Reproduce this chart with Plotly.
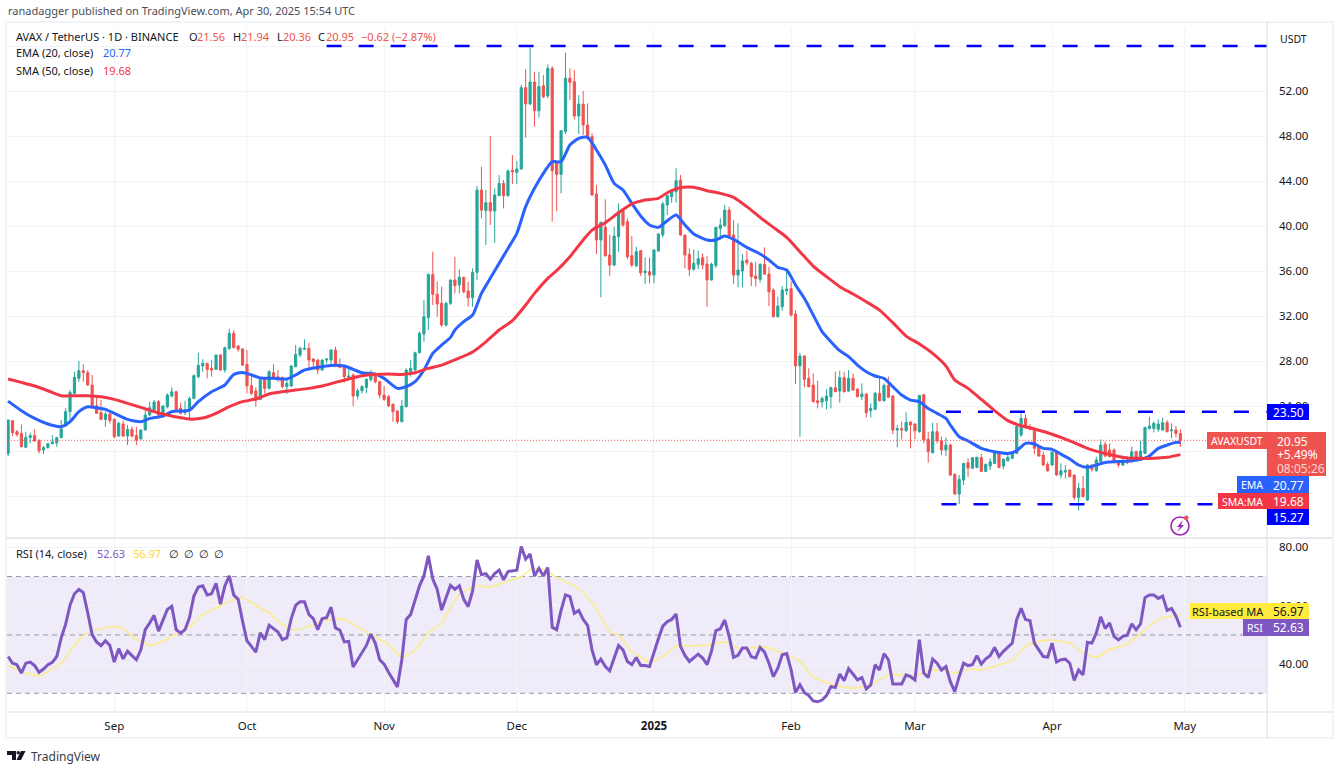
import pandas as pd
import plotly.graph_objects as go

#######################################################
# data (daily candles, Aug 8 2024 .. Apr 30 2025)
first_day = '2024-08-08'

opens = [19.79,22.70,21.72,21.57,20.33,21.21,21.39,20.95,20.09,20.30,
 20.65,20.74,21.19,22.22,23.50,25.13,26.46,27.14,26.96,25.87,
 24.03,23.41,22.81,23.29,22.81,21.33,22.40,21.33,21.93,21.39,
 21.07,21.87,23.20,23.64,24.39,23.20,23.94,24.89,25.27,23.79,
 23.41,23.59,24.68,26.61,27.56,27.79,27.35,27.26,28.53,27.20,
 29.13,30.46,29.33,29.07,27.70,25.81,25.33,24.59,26.37,25.57,
 26.96,26.61,26.55,25.72,25.78,27.50,28.53,29.04,29.13,28.18,
 28.09,27.20,28.09,28.09,28.98,27.64,27.56,26.55,26.76,24.89,
 25.36,25.66,26.37,26.84,26.16,24.98,24.83,24.15,23.56,22.61,
 23.94,27.05,27.20,28.74,30.40,31.88,35.70,33.93,33.13,31.20,
 33.13,35.20,34.76,35.44,34.22,33.63,35.88,43.20,41.36,42.07,
 41.33,42.70,43.79,42.70,44.95,44.77,45.07,52.30,50.85,52.80,
 50.25,52.47,51.56,54.01,45.72,44.59,48.39,53.13,52.83,49.78,
 50.82,48.98,47.94,42.85,38.76,39.88,37.42,36.53,39.05,41.33,
 40.39,37.36,36.47,37.81,35.85,35.94,35.64,37.78,39.20,41.87,
 42.61,43.05,44.09,39.20,37.48,36.15,36.59,37.19,36.62,35.20,
 36.50,39.79,40.03,41.42,39.20,35.64,36.00,36.98,36.68,35.56,
 35.26,36.59,35.73,34.31,31.94,32.83,34.25,34.43,32.18,27.56,
 28.44,26.46,25.87,24.47,24.36,24.47,24.83,25.63,25.33,26.52,
 25.33,26.46,25.51,24.83,25.07,23.59,23.70,25.13,24.47,25.84,
 24.89,21.87,21.99,21.81,22.58,22.40,21.72,25.01,21.04,19.85,
 21.72,20.92,20.09,20.53,17.93,16.18,17.42,18.96,18.46,18.55,
 19.41,18.19,18.67,18.90,19.79,18.67,19.14,19.35,19.79,21.42,
 22.90,22.16,21.93,20.39,19.64,18.81,18.76,19.91,17.87,18.13,
 18.31,17.87,15.88,16.68,15.64,18.76,18.25,19.05,20.59,20.09,
 20.09,19.05,18.76,19.11,19.05,19.94,19.20,19.79,21.99,22.01,
 21.93,21.87,22.52,21.81,21.87,21.56]

highs = [22.76,22.72,21.87,22.37,21.72,21.63,21.93,21.04,20.44,20.74,
 21.42,21.27,22.76,23.79,25.42,27.05,28.00,27.73,27.20,26.76,
 24.98,24.53,23.50,23.41,22.90,22.61,22.70,22.31,22.16,22.16,
 21.93,23.59,24.39,24.53,24.53,24.09,25.13,25.66,25.36,24.30,
 24.47,24.83,26.81,28.74,28.15,27.85,28.09,28.56,28.62,29.27,
 30.87,30.76,29.42,29.13,28.98,26.61,25.66,26.43,26.43,27.20,
 27.73,27.20,26.61,26.31,27.64,29.42,29.27,29.93,29.63,28.27,
 28.15,28.15,28.24,29.04,29.27,28.24,27.64,27.35,26.90,25.57,
 25.87,26.46,27.20,26.96,26.25,25.78,24.98,24.24,23.64,24.53,
 27.35,28.09,28.83,30.61,33.40,35.79,37.72,35.05,34.61,33.27,
 35.26,37.27,36.15,35.50,35.05,36.24,43.56,45.27,43.20,48.00,
 43.35,44.53,44.09,45.04,46.31,45.78,52.53,53.93,55.88,53.72,
 53.72,53.42,54.37,54.22,45.72,48.53,55.41,54.01,53.87,51.64,
 52.00,50.90,48.24,43.64,40.39,42.37,39.20,39.94,42.01,41.57,
 40.68,39.11,38.16,37.87,37.21,37.21,37.93,39.35,42.16,42.81,
 43.26,45.13,44.53,39.20,38.01,37.93,37.81,37.57,37.33,36.74,
 39.94,40.68,41.87,41.72,40.53,40.24,37.51,37.81,36.83,36.83,
 36.68,38.10,36.39,34.46,33.72,34.67,36.09,35.05,32.53,28.74,
 28.53,27.35,26.90,26.25,24.83,25.48,25.72,27.05,27.14,27.05,
 27.20,26.90,25.57,26.01,25.13,24.24,25.27,26.55,26.01,26.61,
 24.98,22.31,22.61,23.44,22.61,22.46,24.98,25.04,21.72,22.52,
 22.52,21.27,21.21,20.68,18.01,17.87,18.96,19.35,19.44,19.50,
 19.73,18.90,19.35,20.03,19.94,19.35,19.64,19.94,22.31,23.50,
 23.26,22.40,22.07,20.53,19.94,19.05,19.97,19.97,18.90,18.76,
 18.37,17.93,17.19,17.78,18.84,18.81,19.50,21.04,20.83,20.68,
 20.24,19.20,19.50,19.56,20.39,20.03,20.92,22.16,23.05,22.61,
 22.81,22.96,22.76,22.46,22.22,21.94]

lows = [19.56,21.33,21.27,20.33,20.30,20.68,20.83,19.79,19.73,20.24,
 20.62,20.39,21.13,22.16,22.46,25.07,26.16,26.16,25.78,23.79,
 23.29,22.76,22.16,22.46,21.13,21.27,21.27,20.53,21.21,20.53,
 21.04,21.81,23.14,23.50,22.90,22.99,23.79,24.77,23.59,23.26,
 23.20,22.81,24.59,26.46,27.05,26.46,26.61,27.20,27.14,26.96,
 28.98,29.13,28.83,27.56,25.13,24.98,23.94,24.53,25.13,25.48,
 26.43,26.16,25.57,25.07,25.72,27.44,28.33,28.98,27.44,27.44,
 26.84,27.14,27.79,27.64,27.44,27.35,26.07,26.46,24.00,24.59,
 25.13,25.13,26.16,26.01,24.68,24.47,23.94,22.61,22.40,22.55,
 23.88,26.61,27.14,28.68,29.72,30.76,32.98,31.94,31.05,31.05,
 32.98,34.01,34.01,34.01,32.83,32.83,35.20,40.68,38.31,40.09,
 38.52,42.67,41.57,42.61,43.73,43.73,44.98,47.85,50.76,48.83,
 49.63,51.35,51.35,40.39,41.33,42.90,48.18,51.20,49.48,48.18,
 48.09,47.65,42.67,37.51,33.66,37.27,35.56,36.44,37.72,39.94,
 37.04,36.33,36.33,35.56,34.84,34.90,34.90,37.72,38.99,40.98,
 42.07,42.07,39.11,36.24,35.56,36.03,36.15,36.15,32.83,35.14,
 36.24,38.81,39.94,39.05,34.84,34.55,34.55,36.50,34.67,34.61,
 34.96,35.64,32.89,31.88,31.88,32.47,33.87,31.94,25.96,21.27,
 25.66,25.66,24.30,23.79,23.88,23.70,23.79,25.27,24.30,25.21,
 25.27,25.36,24.77,24.53,22.99,22.99,23.64,24.41,24.39,24.74,
 21.51,20.33,21.04,21.69,20.24,21.04,21.63,20.68,18.96,19.79,
 20.68,19.64,19.56,17.78,16.09,15.29,16.98,17.72,18.43,18.46,
 18.13,18.16,18.31,18.84,18.46,18.37,19.05,19.29,19.73,21.27,
 22.01,21.87,19.73,19.50,18.67,18.16,18.70,17.78,17.57,17.57,
 17.66,15.64,14.70,15.88,15.59,18.16,18.16,18.96,19.44,19.44,
 18.90,18.55,18.67,18.84,18.96,19.11,19.14,19.73,21.93,21.66,
 21.72,21.81,21.66,21.13,21.21,20.36]

closes = [22.76,21.63,21.48,20.39,21.21,21.36,20.89,20.03,20.30,20.65,
 20.80,21.19,21.96,23.50,25.21,26.55,27.14,26.96,25.87,24.03,
 23.35,22.81,23.29,22.70,21.27,22.46,21.33,21.93,21.33,20.98,
 21.87,23.20,23.85,24.36,23.20,24.00,24.98,25.27,23.70,23.35,
 23.64,24.68,26.70,27.61,27.79,27.26,27.20,28.53,27.20,29.19,
 30.46,29.19,29.04,27.64,25.78,25.13,24.53,26.31,25.57,27.05,
 26.55,26.37,25.72,26.01,27.56,28.59,29.13,29.13,28.09,27.94,
 27.20,28.09,28.18,28.98,27.56,27.44,26.61,26.67,24.89,25.36,
 25.72,26.37,26.90,26.16,24.98,24.59,24.00,23.50,22.61,24.00,
 27.20,27.35,28.74,30.46,31.94,35.70,33.93,33.07,31.20,33.13,
 35.20,34.70,35.44,34.16,33.63,35.88,43.20,41.42,42.07,41.33,
 42.76,43.79,42.70,44.89,44.83,45.07,52.30,50.85,52.80,50.25,
 52.39,51.50,54.01,44.92,44.59,48.47,53.13,52.77,49.78,50.85,
 48.98,47.88,42.76,38.76,40.33,37.36,36.53,39.11,41.27,40.09,
 37.27,36.53,37.72,35.85,36.00,35.64,37.87,39.29,41.96,42.70,
 43.14,44.03,39.20,37.42,36.15,36.68,37.10,36.53,35.20,36.62,
 39.88,40.09,41.42,39.11,35.64,36.09,36.89,36.74,35.50,35.32,
 36.59,35.73,34.16,31.94,32.89,34.31,34.40,32.09,27.56,28.44,
 26.37,25.72,24.39,24.30,24.68,24.89,25.63,25.27,26.52,25.27,
 26.46,25.42,24.83,25.07,23.41,23.79,25.13,24.47,25.84,24.77,
 21.87,21.99,21.87,22.55,22.31,21.81,24.95,20.98,19.94,21.72,
 20.92,20.09,20.53,17.87,16.18,17.48,18.90,18.49,19.41,19.44,
 18.19,18.81,19.05,19.85,18.55,19.26,19.44,19.85,22.16,22.90,
 22.10,21.93,20.24,19.56,18.76,18.25,19.91,17.87,18.25,18.25,
 17.72,15.88,16.68,15.94,18.76,18.37,19.20,20.53,19.56,19.50,
 18.96,18.76,19.02,18.96,19.94,19.20,20.00,22.10,22.22,22.46,
 22.40,22.52,21.72,21.87,21.57,20.95]

# EMA 20, read every couple of days (day = candle number)
ema_days = [0,3,6,9,12,14,16,18,20,22,24,27,30,32,35,37,41,43,46,49,51,53,55,57,60,63,65,67,70,73,76,78,80,83,85,88,90,92,94,96,98,100,
 101,103,105,107,109,111,113,115,117,119,121,123,125,127,129,131,133,135,137,139,141,143,145,147,149,151,153,155,158,160,162,164,167,170,172,174,176,178,180,182,184,186,188,190,192,194,196,198,200,202,204,206,208,210,212,213,215,217,220,223,226,228,230,232,234,236,238,240,242,244,246,248,250,252,254,256,258,260,262,264,265]
ema_vals = [24.44,23.59,22.90,22.40,22.16,22.61,23.50,23.94,23.85,23.70,23.35,22.81,22.61,22.90,23.11,23.50,23.64,24.39,25.27,25.87,26.81,26.99,26.76,26.49,26.46,26.40,26.76,27.20,27.44,27.61,27.56,27.26,26.96,26.84,26.46,25.57,25.72,26.16,27.20,28.68,29.42,30.10,
 30.76,31.50,32.09,34.01,35.35,36.68,38.01,39.35,41.72,43.35,44.68,45.72,45.72,47.20,47.79,47.88,46.76,45.42,43.79,43.20,42.01,40.89,40.09,39.88,40.47,40.98,40.09,39.29,38.76,38.76,39.11,38.81,38.10,37.51,36.98,36.33,36.09,34.76,33.57,32.09,30.61,29.72,28.92,28.39,27.64,27.05,26.67,26.46,25.72,24.98,24.53,24.39,23.79,23.35,22.90,22.31,21.27,20.89,20.24,19.94,19.79,20.03,20.68,20.62,20.24,20.15,19.73,19.29,18.76,18.55,18.76,18.99,19.05,19.08,19.14,19.26,19.56,20.24,20.53,20.77,20.77]

# SMA 50
sma_days = [0,3,6,9,12,15,18,21,24,27,30,33,36,39,41,44,47,50,53,56,59,62,65,68,71,74,77,80,83,86,89,92,95,98,101,105,108,
 111,114,117,119,122,124,127,130,132,135,138,141,144,147,149,152,155,158,161,164,167,170,173,176,179,182,185,188,191,194,197,200,203,206,209,212,214,217,220,223,226,229,232,235,238,241,244,247,250,253,256,259,262,265]
sma_vals = [26.40,26.10,25.78,25.36,24.92,24.92,24.92,24.83,24.59,24.24,23.88,23.50,23.20,22.96,22.84,22.93,23.35,23.94,24.39,24.62,25.07,25.27,25.42,25.57,25.78,26.10,26.40,26.70,26.81,26.84,26.81,26.96,27.35,27.64,28.10,28.80,29.70,
 30.76,31.59,32.98,34.01,35.35,36.03,37.27,38.76,39.64,40.30,41.18,41.96,42.31,42.46,42.96,43.41,43.44,43.14,42.90,42.55,41.72,40.77,39.88,38.99,37.72,36.44,35.50,34.61,33.96,33.27,32.53,31.41,30.22,29.51,28.68,27.56,26.31,25.57,24.59,23.59,22.70,22.25,21.96,21.63,21.21,20.74,20.24,19.88,19.61,19.38,19.35,19.35,19.44,19.68]

rsi = [42.6,40.3,39.8,36.9,40.3,40.7,39.5,37.2,38.3,39.8,
 40.6,42.6,49.0,53.6,60.2,64.1,65.6,64.5,57.6,50.1,
 47.6,46.3,48.0,46.4,40.7,45.3,41.8,44.4,42.9,41.5,
 44.9,51.8,54.1,56.7,51.3,55.3,58.7,59.8,51.8,50.6,
 51.8,55.9,63.3,66.4,66.8,63.7,64.1,67.7,60.5,66.8,
 70.2,63.7,62.2,54.7,48.0,46.1,44.1,50.7,48.4,53.3,
 52.2,51.0,48.4,49.0,55.6,60.1,61.4,61.4,57.0,55.6,
 51.8,55.6,55.9,59.5,52.4,51.6,47.6,47.8,39.0,41.5,
 43.8,46.4,50.3,47.2,41.5,40.0,37.2,34.6,32.2,41.5,
 55.3,57.0,62.2,66.8,70.2,77.1,69.1,65.6,58.5,62.8,
 67.0,65.6,66.8,62.2,59.7,65.1,75.7,70.6,71.0,69.1,
 71.0,72.2,68.9,71.7,72.0,72.2,80.3,76.0,77.7,70.2,
 72.8,70.2,73.1,52.6,51.8,58.4,63.7,63.1,57.4,58.4,
 55.3,53.3,44.9,39.8,41.7,39.2,37.7,42.1,46.4,44.9,
 40.9,39.8,42.3,39.5,39.5,39.2,44.4,48.7,53.0,54.5,
 55.3,57.2,46.1,43.0,40.9,42.3,43.4,42.1,39.8,44.4,
 51.5,52.1,55.1,49.5,42.3,43.0,45.5,45.5,42.5,42.1,
 45.7,44.1,40.3,35.7,38.6,43.2,43.6,38.0,30.3,32.9,
 30.3,29.2,27.4,27.1,27.7,29.2,32.3,32.0,36.6,34.3,
 38.4,36.6,34.6,35.4,31.5,32.9,39.8,38.0,43.6,41.5,
 33.2,33.2,33.2,36.3,35.7,34.6,48.4,36.9,35.4,41.7,
 40.3,38.0,39.2,34.0,30.6,35.7,40.3,39.5,39.8,42.9,
 40.0,41.8,42.9,45.7,42.6,44.4,45.7,47.2,55.3,59.1,
 55.3,54.9,47.2,44.9,42.6,42.4,47.2,40.7,41.5,41.7,
 40.3,34.4,38.0,36.3,47.5,47.2,50.7,56.2,52.2,54.1,
 49.5,48.3,49.5,49.9,53.8,51.8,53.8,62.8,63.7,63.7,
 62.5,63.3,58.4,59.1,56.4,52.63]

rsi_ma_days = [0,3,5,7,9,12,14,16,18,21,24,26,28,31,32,35,38,40,43,44,48,50,53,55,59,62,65,68,71,76,80,83,86,89,92,95,98,100,
 102,106,109,113,116,118,121,124,128,131,134,136,138,141,145,148,151,155,159,162,165,168,171,175,179,182,186,191,195,199,
 205,208,211,214,218,220,224,227,230,233,236,240,243,246,249,253,257,260,265]
rsi_ma_vals = [39.5,37.5,36.6,36.0,37.5,40.3,44.4,48.4,50.7,52.1,52.8,52.4,49.5,46.9,46.4,47.8,50.5,51.8,55.3,57.0,59.9,61.6,62.8,61.0,57.6,53.6,51.6,53.0,54.9,55.3,51.8,49.2,46.7,42.3,44.9,50.7,54.1,59.3,
 63.9,66.8,66.4,68.5,69.9,72.2,72.5,69.7,66.8,62.8,56.4,51.0,49.9,44.4,40.9,42.6,46.1,46.3,46.7,47.6,45.5,45.5,45.9,43.8,40.9,35.7,33.2,31.7,32.9,36.3,
 36.1,37.7,38.0,37.1,38.4,38.0,39.8,41.1,46.1,47.8,48.2,47.2,43.8,42.4,44.9,46.9,51.8,55.3,56.97]

month_ticks = ['2024-09-01','2024-10-01','2024-11-01','2024-12-01','2025-01-01','2025-02-01','2025-03-01','2025-04-01','2025-05-01']
month_labels = ['Sep','Oct','Nov','Dec','<b>2025</b>','Feb','Mar','Apr','May']

price_ticks = [16,20,24,28,32,36,40,44,48,52,56]
price_labels = ['','','24.00','28.00','32.00','36.00','40.00','44.00','48.00','52.00','']
rsi_ticks = [40,60,80]
rsi_labels = ['40.00','60.00','80.00']

top_level = 56.0
resistance = 23.50
support = 15.27
last_close = 20.95
#######################################################

W, H = 1336, 770
GREEN, RED = '#26a69a', '#ef5350'
FONT = 'Noto Sans'
dates = pd.date_range(first_day, periods=len(closes))

def px(x):
    return x / W

def py(y):
    return 1 - y / H

shapes = []
notes = []

def box(x0, y0, x1, y1, fill, line=None, width=1, layer='above'):
    shapes.append(dict(type='rect', xref='paper', yref='paper', x0=px(x0), x1=px(x1), y0=py(y0), y1=py(y1),
                       fillcolor=fill, line=dict(color=line or fill, width=width if line else 0), layer=layer))

def txt(x, y, text, color='#131722', size=11, anchor='left'):
    notes.append(dict(xref='paper', yref='paper', x=px(x), y=py(y), text=text, showarrow=False, xanchor=anchor, yanchor='middle',
                      font=dict(color=color, size=size, family=FONT), borderpad=0))

def poly(points, fill):
    path = 'M ' + ' L '.join(f'{px(a)} {py(b)}' for a, b in points) + ' Z'
    shapes.append(dict(type='path', xref='paper', yref='paper', path=path, fillcolor=fill, line=dict(width=0), layer='above'))

fig = go.Figure()

fig.add_trace(go.Candlestick(x=dates, open=opens, high=highs, low=lows, close=closes, xaxis='x', yaxis='y',
                             increasing=dict(line=dict(color=GREEN, width=1), fillcolor=GREEN),
                             decreasing=dict(line=dict(color=RED, width=1), fillcolor=RED)))
fig.add_trace(go.Scatter(x=dates[ema_days], y=ema_vals, mode='lines', xaxis='x', yaxis='y',
                         line=dict(color='#2962ff', width=3, shape='spline', smoothing=0.6)))
fig.add_trace(go.Scatter(x=dates[sma_days], y=sma_vals, mode='lines', xaxis='x', yaxis='y',
                         line=dict(color='#f23645', width=3, shape='spline', smoothing=0.6)))

# price line and the hand drawn levels
x_end = '2025-05-20'
fig.add_trace(go.Scatter(x=[first_day, x_end], y=[last_close, last_close], mode='lines', xaxis='x', yaxis='y',
                         line=dict(color=RED, width=1, dash='1px,2px')))
for start, level in [('2024-10-19', top_level), ('2025-03-08', resistance), ('2025-03-07', support)]:
    fig.add_trace(go.Scatter(x=[start, x_end], y=[level, level], mode='lines', xaxis='x', yaxis='y',
                             line=dict(color='#0000ff', width=2.5, dash='15px,17px')))

fig.add_trace(go.Scatter(x=dates[rsi_ma_days], y=rsi_ma_vals, mode='lines', xaxis='x2', yaxis='y2',
                         line=dict(color='#fcec8c', width=1.6, shape='spline', smoothing=0.6)))
fig.add_trace(go.Scatter(x=dates, y=rsi, mode='lines', xaxis='x2', yaxis='y2',
                         line=dict(color='#7e57c2', width=3)))

# RSI band
shapes.append(dict(type='rect', xref='x2 domain', yref='y2', x0=0, x1=1, y0=30, y1=70,
                   fillcolor='rgba(126,87,194,0.12)', line=dict(width=0), layer='below'))
for lvl in [70, 50, 30]:
    shapes.append(dict(type='line', xref='x2 domain', yref='y2', x0=0, x1=1, y0=lvl, y1=lvl,
                       line=dict(color='#9598a1', width=1, dash='5px,4px'), layer='below'))

# frame and separators
box(6, 22, 1333, 738, 'rgba(0,0,0,0)', '#eef0f4', 1.5)
shapes.append(dict(type='line', xref='paper', yref='paper', x0=px(1267), x1=px(1267), y0=py(22), y1=py(738), line=dict(color='#d9dbe2', width=1), layer='above'))
shapes.append(dict(type='line', xref='paper', yref='paper', x0=px(6), x1=px(1333), y0=py(538), y1=py(538), line=dict(color='#e6e8ee', width=2), layer='above'))
shapes.append(dict(type='line', xref='paper', yref='paper', x0=px(6), x1=px(1333), y0=py(712), y1=py(712), line=dict(color='#e6e8ee', width=1.5), layer='above'))

# price scale labels
box(1267, 404, 1309, 420, '#0000ff')
txt(1288, 412.5, '23.50', 'white', 12, 'center')
box(1207, 432, 1267, 449, RED)
txt(1237, 441, 'AVAXUSDT', 'white', 10.5, 'center')
box(1267, 432, 1326, 476, RED)
txt(1276, 441, '20.95', 'white', 12)
txt(1276, 454, '+5.49%', 'white', 12)
txt(1276, 468, '08:05:26', '#fbd5d4', 12)
box(1237, 476, 1267, 493, '#2962ff')
txt(1252, 485, 'EMA', 'white', 10.5, 'center')
box(1267, 476, 1309, 493, '#2962ff')
txt(1288, 485, '20.77', 'white', 12, 'center')
box(1218, 493, 1267, 509, '#f23645')
txt(1242, 501.5, 'SMA:MA', 'white', 10.5, 'center')
box(1267, 493, 1309, 509, '#f23645')
txt(1288, 501.5, '19.68', 'white', 12, 'center')
box(1267, 509, 1309, 525, '#0000ff')
txt(1288, 517.5, '15.27', 'white', 12, 'center')
txt(1279, 39, 'USDT', '#131722', 10.5)

box(1190, 603, 1309, 619, '#ffeb3b')
txt(1228, 611.5, 'RSI-based MA', '#131722', 11, 'center')
txt(1288, 611.5, '56.97', '#131722', 12, 'center')
box(1243, 619, 1309, 636, '#7e57c2')
txt(1255, 627.5, 'RSI', 'white', 10.5, 'center')
txt(1288, 627.5, '52.63', 'white', 12, 'center')

# header and legend texts
txt(7, 10, 'ranadagger published on TradingView.com, Apr 30, 2025 15:54 UTC', '#4a4e57')
txt(15, 37, 'AVAX / TetherUS · 1D · BINANCE')
for x, label, col in [(188, 'O', '#131722'), (196, '21.56', RED), (232, 'H', '#131722'), (240, '21.94', RED),
                      (276, 'L', '#131722'), (282, '20.36', RED), (317, 'C', '#131722'), (325, '20.95', RED),
                      (360, '−0.62', RED), (391, '(−2.87%)', RED)]:
    txt(x, 37, label, col)
txt(15, 53, 'EMA (20, close)')
txt(102, 53, '20.77', '#2962ff')
txt(15, 70, 'SMA (50, close)')
txt(102, 70, '19.68', '#f23645')
txt(15, 553, 'RSI (14, close)')
txt(96, 553, '52.63', '#7e57c2')
txt(132, 553, '56.97', '#fdd835')
for x in [168, 183, 198, 213]:
    txt(x, 553, '∅', '#131722', 11)

# flash icon
shapes.append(dict(type='circle', xref='paper', yref='paper', x0=px(1171), x1=px(1189), y0=py(517), y1=py(535),
                   line=dict(color='#9c27b0', width=1.6), fillcolor='white', layer='above'))
poly([(1183, 520), (1177, 527), (1180, 527), (1177, 532), (1184, 525), (1181, 525)], '#9c27b0')
shapes.append(dict(type='circle', xref='paper', yref='paper', x0=px(1184), x1=px(1188.5), y0=py(515.5), y1=py(520),
                   line=dict(width=0), fillcolor=RED, layer='above'))

# TradingView mark
poly([(7, 751), (16, 751), (16, 760), (12, 760), (12, 755), (7, 755)], '#131722')
shapes.append(dict(type='circle', xref='paper', yref='paper', x0=px(16.5), x1=px(20), y0=py(751), y1=py(754.5),
                   line=dict(width=0), fillcolor='#131722', layer='above'))
poly([(21, 751), (25.5, 751), (21, 760), (16.5, 760)], '#131722')
txt(30, 756, 'TradingView', '#3a3d45', 12)

pane_range = ['2024-08-07 18:00', '2025-05-19 14:00']
axis_font = dict(color='#131722', size=11.5, family=FONT)
fig.update_layout(
    width=W, height=H,
    margin=dict(l=0, r=0, t=0, b=0),
    paper_bgcolor='white', plot_bgcolor='white',
    showlegend=False,
    font=dict(family=FONT),
    shapes=shapes,
    annotations=notes,
    xaxis=dict(domain=[px(7), px(1267)], range=pane_range, anchor='y', rangeslider=dict(visible=False), type='date',
               tickvals=month_ticks, showticklabels=False, ticks='', showgrid=True, gridcolor='#f2f3f6', zeroline=False),
    yaxis=dict(domain=[py(537), py(28)], range=[12.36, 57.6], anchor='x', side='right', tickvals=price_ticks, ticktext=price_labels,
               showgrid=True, gridcolor='#f2f3f6', zeroline=False, ticks='', tickfont=axis_font, ticklabelstandoff=11),
    xaxis2=dict(domain=[px(7), px(1267)], range=pane_range, anchor='y2', type='date',
                tickvals=month_ticks, ticktext=month_labels, ticks='', showgrid=True, gridcolor='#f2f3f6', zeroline=False,
                tickfont=axis_font, ticklabelstandoff=5),
    yaxis2=dict(domain=[py(712), py(538)], range=[23.6, 83.2], anchor='x2', side='right', tickvals=rsi_ticks, ticktext=rsi_labels,
                showgrid=True, gridcolor='#f2f3f6', zeroline=False, ticks='', tickfont=axis_font, ticklabelstandoff=11),
)

fig.write_html("out.html", config=dict(displayModeBar=False), post_script="document.body.style.margin='0'")
